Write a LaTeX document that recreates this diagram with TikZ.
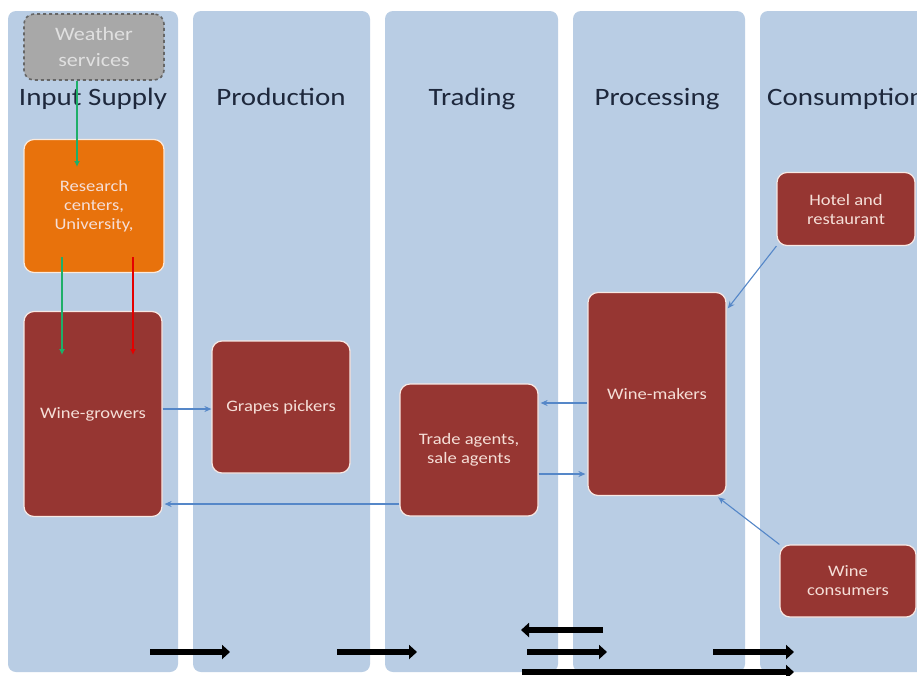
\documentclass[tikz,border=0pt]{standalone}
\usepackage{fontspec}
\setmainfont{Carlito}
\newfontfamily\widefont[FakeStretch=1.16]{Carlito}
\usetikzlibrary{arrows.meta}
\definecolor{colbg}{RGB}{185,205,228}
\definecolor{darkred}{RGB}{150,54,50}
\definecolor{orangebox}{RGB}{232,114,12}
\definecolor{boxtext}{RGB}{245,222,215}
\definecolor{flowblue}{RGB}{85,135,200}
\definecolor{headtext}{RGB}{30,40,60}
\definecolor{greenline}{RGB}{30,175,105}
\definecolor{wsgray}{RGB}{168,168,168}
\tikzset{
  column/.style={fill=colbg, rounded corners=8pt},
  header/.style={text=headtext, font=\widefont\fontsize{25}{28}\selectfont, anchor=base, inner sep=0pt},
  redbox/.style={fill=darkred, draw=boxtext!70!white, line width=1.2pt, rounded corners=10pt,
     text=boxtext, align=center, font=\widefont\fontsize{16}{19}\selectfont, inner sep=0pt},
  orangebox/.style={redbox, fill=orangebox, draw=white!85!orangebox},
  wsbox/.style={fill=wsgray, draw=black!60, dashed, line width=1.6pt, rounded corners=10pt,
     text=white!88!black, align=center, font=\widefont\fontsize{19}{26}\selectfont, inner sep=0pt},
  flow/.style={draw=flowblue, line width=1.1pt, -{Stealth[length=7pt,width=6pt]}},
  gflow/.style={draw=greenline, line width=1.5pt, -{Latex[length=6pt,width=6pt]}},
  rflow/.style={draw=red!90!black, line width=1.5pt, -{Latex[length=6pt,width=6pt]}},
  bigarrow/.style={draw=black, line width=6pt, -{Triangle[length=8pt,width=14pt]}},
}
\begin{document}
\begin{tikzpicture}[x=1pt,y=-1pt]
\useasboundingbox (0,0) rectangle (917,675);
\clip (0,0) rectangle (917,675);
\fill[white] (0,0) rectangle (917,675);
% columns
\fill[column] (8,11) rectangle (178,672);
\fill[column] (193,11) rectangle (370,672);
\fill[column] (385,11) rectangle (558,672);
\fill[column] (573,11) rectangle (745,672);
\fill[column] (760,11) rectangle (940,672);
% headers
\node[header] (h1) at (93,105) {Input Supply};
\node[header] (h2) at (281,105) {Production};
\node[header] (h3) at (472,105) {Trading};
\node[header] (h4) at (657,105) {Processing};
\node[header, anchor=base west] (h5) at (767,105) {Consumption};
% boxes
\node[wsbox, minimum width=140pt, minimum height=66pt] (ws) at (94,47) {Weather\\services};
\node[orangebox, minimum width=140pt, minimum height=133pt] (rc) at (94,206) {Research\\centers,\\University,};
\node[redbox, minimum width=138pt, minimum height=205pt] (wg) at (93,414) {Wine-growers};
\node[redbox, minimum width=138pt, minimum height=132pt] (gp) at (281,407) {Grapes pickers};
\node[redbox, minimum width=138pt, minimum height=132pt] (ta) at (469,450) {Trade agents,\\sale agents};
\node[redbox, minimum width=138pt, minimum height=203pt] (wm) at (657,394) {Wine-makers};
\node[redbox, minimum width=138pt, minimum height=73pt] (hr) at (846,209) {Hotel and\\restaurant};
\node[redbox, minimum width=136pt, minimum height=72pt] (wc) at (848,581) {Wine\\consumers};
% green and red lines
\coordinate (g1) at (77,167);
\coordinate (g2) at (62,355);
\coordinate (r2) at (133,355);
\draw[gflow] (ws.south -| g1) -- (g1);
\draw[gflow] (g2 |- 0,257) -- (g2);
\draw[rflow] (r2 |- 0,257) -- (r2);
% blue flows
\draw[flow] (wg.east |- 0,409) -- (gp.west |- 0,409);
\draw[flow, shorten >=2pt] (wm.west |- 0,403) -- (ta.east |- 0,403);
\draw[flow, shorten >=2pt] (ta.east |- 0,474) -- (wm.west |- 0,474);
\draw[flow, shorten >=2pt] (ta.west |- 0,504) -- (wg.east |- 0,504);
\draw[flow, shorten >=2pt] (hr.south west) -- ([yshift=-18pt]wm.north east);
\draw[flow, shorten >=2pt] (wc.north west) -- ([xshift=-10pt]wm.south east);
% black arrows
\draw[bigarrow] (150,652) -- (230,652);
\draw[bigarrow] (337,652) -- (417,652);
\draw[bigarrow] (603,630) -- (521,630);
\draw[bigarrow] (527,652) -- (607,652);
\draw[bigarrow] (713,652) -- (794,652);
\draw[bigarrow] (522,672) -- (794,672);
\end{tikzpicture}
\end{document}
